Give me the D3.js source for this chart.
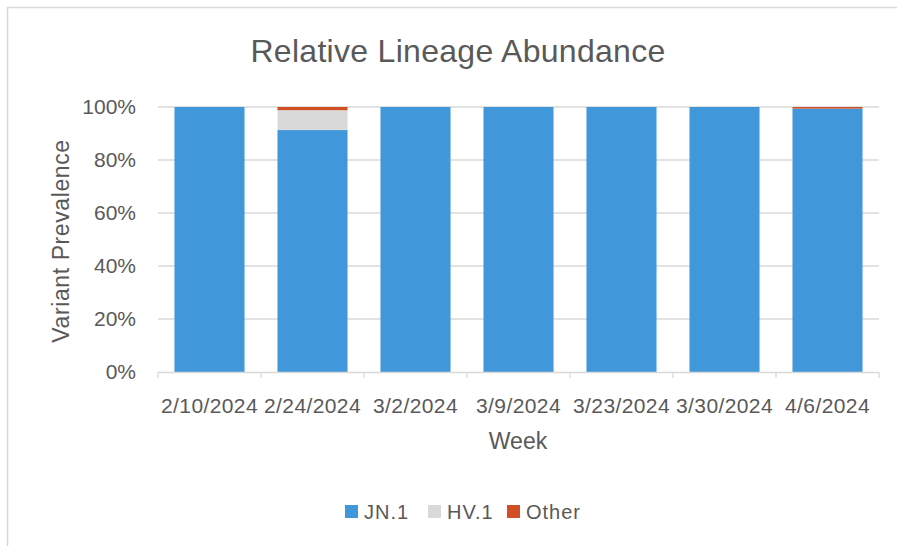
<!DOCTYPE html>
<html><head><meta charset="utf-8">
<script src="https://cdn.jsdelivr.net/npm/d3@7"></script>
<style>body{margin:0;background:#fff;} text{font-family:"Liberation Sans",Arial,sans-serif;fill:#595959;}</style>
</head><body><svg id="c" width="897" height="546"></svg>
<script>
const weeks = ["2/10/2024","2/24/2024","3/2/2024","3/9/2024","3/23/2024","3/30/2024","4/6/2024"];
const seriesNames = ["JN.1","HV.1","Other"];
const jn1   = [1.000, 0.913, 1.000, 1.000, 1.000, 1.000, 0.994];
const hv1   = [0.000, 0.075, 0.000, 0.000, 0.000, 0.000, 0.000];
const other = [0.000, 0.012, 0.000, 0.000, 0.000, 0.000, 0.006];
const yTicks = [0, 0.2, 0.4, 0.6, 0.8, 1.0];
const colors = ["#4097d9", "#d9d9d9", "#d14f23"];

const svg = d3.select("#c");
svg.append("rect").attr("x",7.5).attr("y",7.5).attr("width",900).attr("height",560)
  .attr("fill","#fff").attr("stroke","#d9d9d9").attr("stroke-width",1.5);

const L=158, R=879, T=107, B=372;
const x = d3.scaleBand().domain(weeks).range([L,R]).paddingInner(0.32).paddingOuter(0.16);
const y = d3.scaleLinear().domain([0,1]).range([B,T]);

const table = weeks.map((w,i)=>({week:w, "JN.1":jn1[i], "HV.1":hv1[i], "Other":other[i]}));
const stack = d3.stack().keys(seriesNames)(table);

// gridlines
svg.append("g").selectAll("line").data(yTicks.filter(d=>d>0)).join("line")
  .attr("x1",L).attr("x2",R).attr("y1",d=>y(d)).attr("y2",d=>y(d))
  .attr("stroke","#d9d9d9").attr("stroke-width",1.3);

// bars
svg.append("g").selectAll("g").data(stack).join("g").attr("fill",(d,i)=>colors[i])
  .selectAll("rect").data(d=>d).join("rect")
  .attr("x",d=>x(d.data.week)).attr("width",x.bandwidth())
  .attr("y",d=>y(d[1])).attr("height",d=>Math.max(0,y(d[0])-y(d[1])));

// x axis
const xa = svg.append("g");
xa.append("line").attr("x1",L).attr("x2",R).attr("y1",B+0.5).attr("y2",B+0.5).attr("stroke","#d9d9d9").attr("stroke-width",1.3);
const step = (R-L)/weeks.length;
xa.selectAll("line.t").data(d3.range(weeks.length+1)).join("line").attr("class","t")
  .attr("x1",i=>L+i*step).attr("x2",i=>L+i*step).attr("y1",B).attr("y2",B+6)
  .attr("stroke","#d9d9d9").attr("stroke-width",1.3);
xa.selectAll("text").data(weeks).join("text")
  .attr("x",d=>x(d)+x.bandwidth()/2).attr("y",B+41).attr("text-anchor","middle")
  .attr("font-size",21).attr("letter-spacing",0.4).text(d=>d);

// y axis labels
svg.append("g").selectAll("text").data(yTicks).join("text")
  .attr("x",L-22).attr("y",d=>y(d)+7).attr("text-anchor","end").attr("font-size",21)
  .text(d=>d3.format(".0%")(d));

// titles
svg.append("text").attr("x",458).attr("y",62).attr("text-anchor","middle").attr("font-size",32).attr("letter-spacing",0.3).text("Relative Lineage Abundance");
svg.append("text").attr("x",518).attr("y",449).attr("text-anchor","middle").attr("font-size",23).text("Week");
svg.append("text").attr("transform","translate(69,241) rotate(-90)").attr("text-anchor","middle").attr("font-size",23).attr("letter-spacing",0.6).text("Variant Prevalence");

// legend
const legX = [345, 428, 507];
const lg = svg.append("g").selectAll("g").data(seriesNames).join("g")
  .attr("transform",(d,i)=>`translate(${legX[i]},505)`);
lg.append("rect").attr("width",13).attr("height",13).attr("fill",(d,i)=>colors[i]);
lg.append("text").attr("x",19).attr("y",14).attr("font-size",20).attr("letter-spacing",1).text(d=>d);
</script></body></html>
